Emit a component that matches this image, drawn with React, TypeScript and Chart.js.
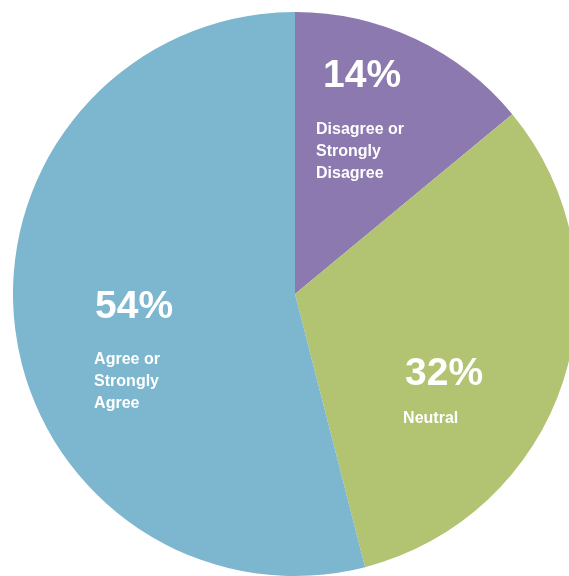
import React, { useEffect, useRef } from "react";
import { Chart, registerables } from "chart.js";

Chart.register(...registerables);

const categories = ["Disagree or Strongly Disagree", "Neutral", "Agree or Strongly Agree"];
const values = [14, 32, 54];
const percentLabels = ["14%", "32%", "54%"];
const labelLines = [["Disagree or", "Strongly", "Disagree"], ["Neutral"], ["Agree or", "Strongly", "Agree"]];
const colors = ["#8b79b0", "#b2c372", "#7cb6cf"];
// text offsets from each slice's centroid: [pctX, pctY, labelX, labelY]
const textOffsets = [
  [-32, -79, -39, -32],
  [-24, 47, -26, 85],
  [-60, 6, -61, 52],
];

const labelPlugin = {
  id: "sliceLabels",
  afterDatasetsDraw(chart: any) {
    const ctx = chart.ctx;
    const meta = chart.getDatasetMeta(0);
    meta.data.forEach((arc: any, i: number) => {
      const p = arc.tooltipPosition(false);
      const [px, py, lx, ly] = textOffsets[i];
      ctx.save();
      ctx.fillStyle = "#ffffff";
      ctx.textAlign = "left";
      ctx.textBaseline = "alphabetic";
      ctx.font = 'bold 39px "Liberation Sans", Arial, sans-serif';
      ctx.fillText(percentLabels[i], p.x + px, p.y + py);
      ctx.font = 'bold 16px "Liberation Sans", Arial, sans-serif';
      labelLines[i].forEach((line, j) => {
        ctx.fillText(line, p.x + lx, p.y + ly + j * 22);
      });
      ctx.restore();
    });
  },
};

export default function App() {
  const ref = useRef<HTMLCanvasElement>(null);
  useEffect(() => {
    if (!ref.current) return;
    const chart = new Chart(ref.current, {
      type: "pie",
      data: {
        labels: categories,
        datasets: [
          {
            data: values,
            backgroundColor: colors,
            borderWidth: 0,
          },
        ],
      },
      options: {
        responsive: false,
        animation: false,
        layout: { padding: { left: 13, top: 12, right: 23, bottom: 24 } },
        plugins: {
          legend: { display: false },
          tooltip: { enabled: false },
        },
      },
      plugins: [labelPlugin],
    });
    return () => chart.destroy();
  }, []);
  return (
    <div style={{ position: "fixed", left: 0, top: 0, width: 569, height: 576, overflow: "hidden", background: "#fff" }}>
      <canvas ref={ref} width={600} height={600} style={{ display: "block", width: 600, height: 600 }} />
    </div>
  );
}
